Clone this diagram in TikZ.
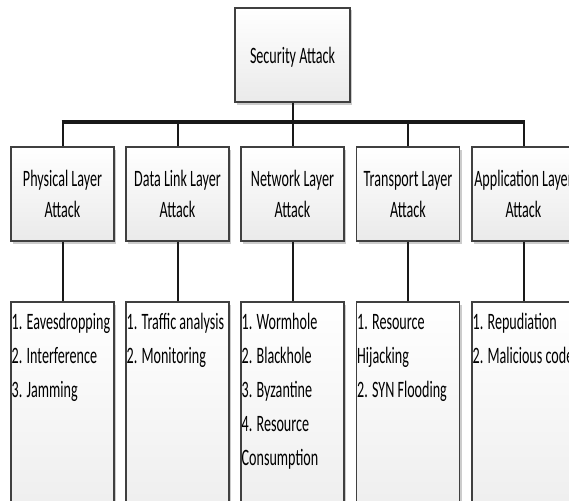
\documentclass[tikz,border=0pt]{standalone}
\usepackage{fontspec}
\newfontfamily\diafont[FakeStretch=0.6]{Carlito}
\usetikzlibrary{shadows}
\definecolor{boxline}{HTML}{404040}
\definecolor{boxbottom}{HTML}{EAEAEA}
\tikzset{
  box/.style={draw=boxline, line width=1.1pt, top color=white, bottom color=boxbottom,
    minimum width=103pt, minimum height=94pt, inner sep=0pt, align=center, text depth=0pt,
    font=\diafont\fontsize{23.5pt}{31pt}\selectfont,
    drop shadow={shadow xshift=2pt, shadow yshift=-2.5pt, fill=black, opacity=0.2}},
  topbox/.style={box, minimum width=115pt},
  listbox/.style={box, minimum height=260pt},
  listtext/.style={anchor=north west, align=left, inner sep=0pt,
    font=\diafont\fontsize{23.5pt}{34pt}\selectfont},
  link/.style={line width=2pt, black!90},
  busline/.style={line width=4pt, black!90}
}
\begin{document}
\begin{tikzpicture}[x=1pt,y=-1pt]
  \useasboundingbox (0,0) rectangle (569,500);
  \clip (0,0) rectangle (569,500);
  % root
  \node[topbox] (sec) at (292.5,55) {Security Attack};
  % layers
  \node[box] (phy) at (62.5,194) {Physical Layer\\Attack};
  \node[box] (dll) at (177.5,194) {Data Link Layer\\Attack};
  \node[box] (net) at (292.5,194) {Network Layer\\Attack};
  \node[box] (tra) at (408,194) {Transport Layer\\Attack};
  \node[box] (app) at (523.5,194) {Application Layer\\Attack};
  % attack lists
  \node[listbox] (phylist) at (62.5,432) {};
  \node[listbox] (dlllist) at (177.5,432) {};
  \node[listbox] (netlist) at (292.5,432) {};
  \node[listbox] (tralist) at (408,432) {};
  \node[listbox] (applist) at (523.5,432) {};
  \node[listtext] (phytext) at ([xshift=1pt,yshift=-4pt]phylist.north west) {\strut 1. Eavesdropping\\2. Interference\\3. Jamming};
  \node[listtext] (dlltext) at ([xshift=1pt,yshift=-4pt]dlllist.north west) {\strut 1. Traffic analysis\\2. Monitoring};
  \node[listtext] (nettext) at ([xshift=1pt,yshift=-4pt]netlist.north west) {\strut 1. Wormhole\\2. Blackhole\\3. Byzantine\\4. Resource\\Consumption};
  \node[listtext] (tratext) at ([xshift=1pt,yshift=-4pt]tralist.north west) {\strut 1. Resource\\Hijacking\\2. SYN Flooding};
  \node[listtext] (apptext) at ([xshift=1pt,yshift=-4pt]applist.north west) {\strut 1. Repudiation\\2. Malicious code};
  % connectors
  \coordinate (bus) at (292.5,122);
  \draw[busline] ([xshift=-1pt]phy.north |- bus) -- ([xshift=1pt]app.north |- bus);
  \draw[link] (sec.south) -- (net.north);
  \draw[link] (phy.north) -- (phy.north |- bus);
  \draw[link] (dll.north) -- (dll.north |- bus);
  \draw[link] (tra.north) -- (tra.north |- bus);
  \draw[link] (app.north) -- (app.north |- bus);
  \draw[link] (phy.south) -- (phylist.north);
  \draw[link] (dll.south) -- (dlllist.north);
  \draw[link] (net.south) -- (netlist.north);
  \draw[link] (tra.south) -- (tralist.north);
  \draw[link] (app.south) -- (applist.north);
\end{tikzpicture}
\end{document}
